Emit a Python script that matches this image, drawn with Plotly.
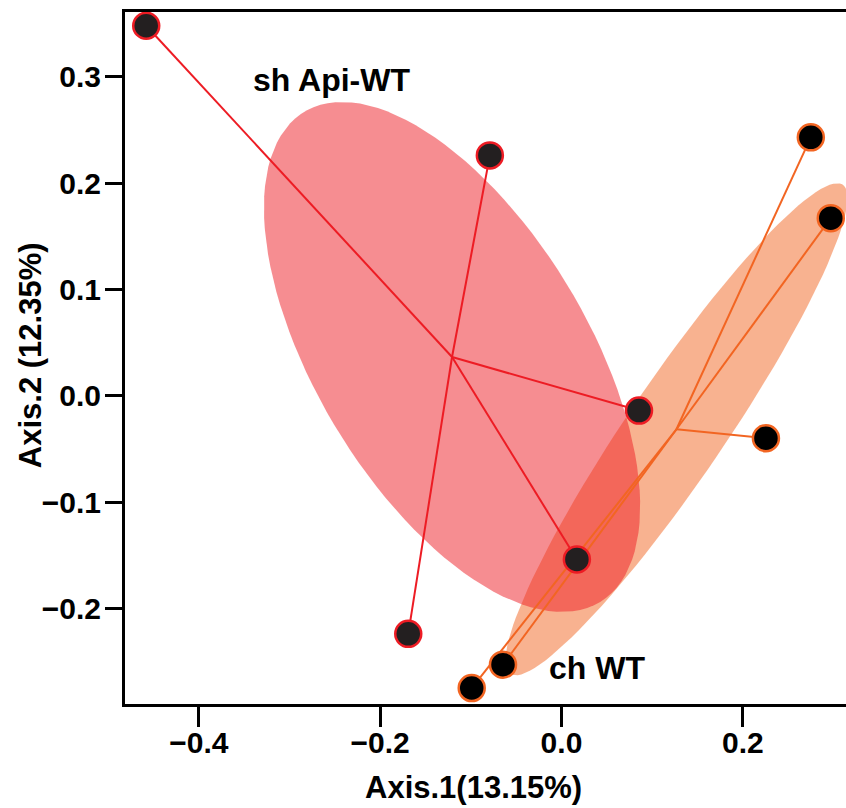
import numpy as np
import plotly.graph_objects as go

# ---- data ----
sh_x = [-0.458, -0.079, 0.0855, 0.017, -0.169]
sh_y = [0.348, 0.226, -0.014, -0.154, -0.224]
ch_x = [0.275, 0.297, 0.2255, -0.0645, -0.099]
ch_y = [0.243, 0.167, -0.040, -0.253, -0.275]
group_names = ["sh Api-WT", "ch WT"]
x_ticks = [-0.4, -0.2, 0.0, 0.2]
y_ticks = [-0.2, -0.1, 0.0, 0.1, 0.2, 0.3]

RED = "#ED1C24"
ORANGE = "#F26522"
ELL_R = 0.98
FONT = "Liberation Sans, Arial, sans-serif"


def fmt(v):
    s = "%.1f" % v
    return "<b>%s</b>" % s.replace("-", "\u2212")


def ellipse(xs, ys, r=ELL_R, n=120):
    xs, ys = np.asarray(xs), np.asarray(ys)
    c = np.cov(np.vstack([xs, ys]))
    vals, vecs = np.linalg.eigh(c)
    t = np.linspace(0, 2 * np.pi, n)
    pts = vecs @ (np.sqrt(vals)[:, None] * np.vstack([np.cos(t), np.sin(t)])) * r
    return xs.mean() + pts[0], ys.mean() + pts[1]


def spokes(xs, ys):
    cx, cy = np.mean(xs), np.mean(ys)
    lx, ly = [], []
    for x, y in zip(xs, ys):
        lx += [cx, x, None]
        ly += [cy, y, None]
    return lx, ly


fig = go.Figure()

for xs, ys, rgba in [
    (ch_x, ch_y, "rgba(242,101,34,0.5)"),
    (sh_x, sh_y, "rgba(237,28,36,0.5)"),
]:
    ex, ey = ellipse(xs, ys)
    fig.add_trace(go.Scatter(x=ex, y=ey, mode="lines", fill="toself",
                             fillcolor=rgba, line=dict(width=0), hoverinfo="skip"))

for xs, ys, col in [(sh_x, sh_y, RED), (ch_x, ch_y, ORANGE)]:
    lx, ly = spokes(xs, ys)
    fig.add_trace(go.Scatter(x=lx, y=ly, mode="lines", line=dict(color=col, width=2)))

for xs, ys, col, fill in [(sh_x, sh_y, RED, "#231F20"), (ch_x, ch_y, ORANGE, "#000000")]:
    fig.add_trace(go.Scatter(x=xs, y=ys, mode="markers",
                             marker=dict(size=26, color=fill, line=dict(color=col, width=2.5))))

fig.add_annotation(x=-0.254, y=0.297, text="<b>%s</b>" % group_names[0], showarrow=False,
                   font=dict(family=FONT, size=32, color="black"))
fig.add_annotation(x=0.039, y=-0.256, text="<b>%s</b>" % group_names[1], showarrow=False,
                   font=dict(family=FONT, size=32, color="black"))

fig.add_annotation(xref="paper", yref="paper", x=0.484, y=-0.12, xanchor="center", yanchor="middle",
                   text="<b>Axis.1(13.15%)</b>",
                   showarrow=False, font=dict(family=FONT, size=31, color="black"))
fig.add_annotation(xref="paper", yref="paper", x=-0.1318, y=0.504, xanchor="center", yanchor="middle",
                   text="<b>Axis.2 (12.35%)</b>",
                   textangle=-90, showarrow=False, font=dict(family=FONT, size=31, color="black"))

fig.update_layout(
    width=846, height=808,
    margin=dict(l=125, r=0, t=12, b=104),
    paper_bgcolor="white", plot_bgcolor="white",
    showlegend=False,
    font=dict(family=FONT, size=30, color="black"),
)
fig.update_xaxes(range=[-0.4814, 0.3138], tickvals=x_ticks,
                 ticktext=[fmt(v) for v in x_ticks],
                 showgrid=False, zeroline=False, showline=True, linecolor="black", linewidth=3,
                 mirror=True, ticks="outside", ticklen=20, tickwidth=3, tickcolor="black",
                 ticklabelstandoff=-10)
fig.update_yaxes(range=[-0.290, 0.3609], tickvals=y_ticks,
                 ticktext=[fmt(v) for v in y_ticks],
                 showgrid=False, zeroline=False, showline=True, linecolor="black", linewidth=3,
                 ticks="outside", ticklen=17, tickwidth=3, tickcolor="black",
                 ticklabelstandoff=-2)

fig.write_html("out.html", config={"displayModeBar": False},
               post_script="document.body.style.margin='0';document.body.style.overflow='hidden';")
